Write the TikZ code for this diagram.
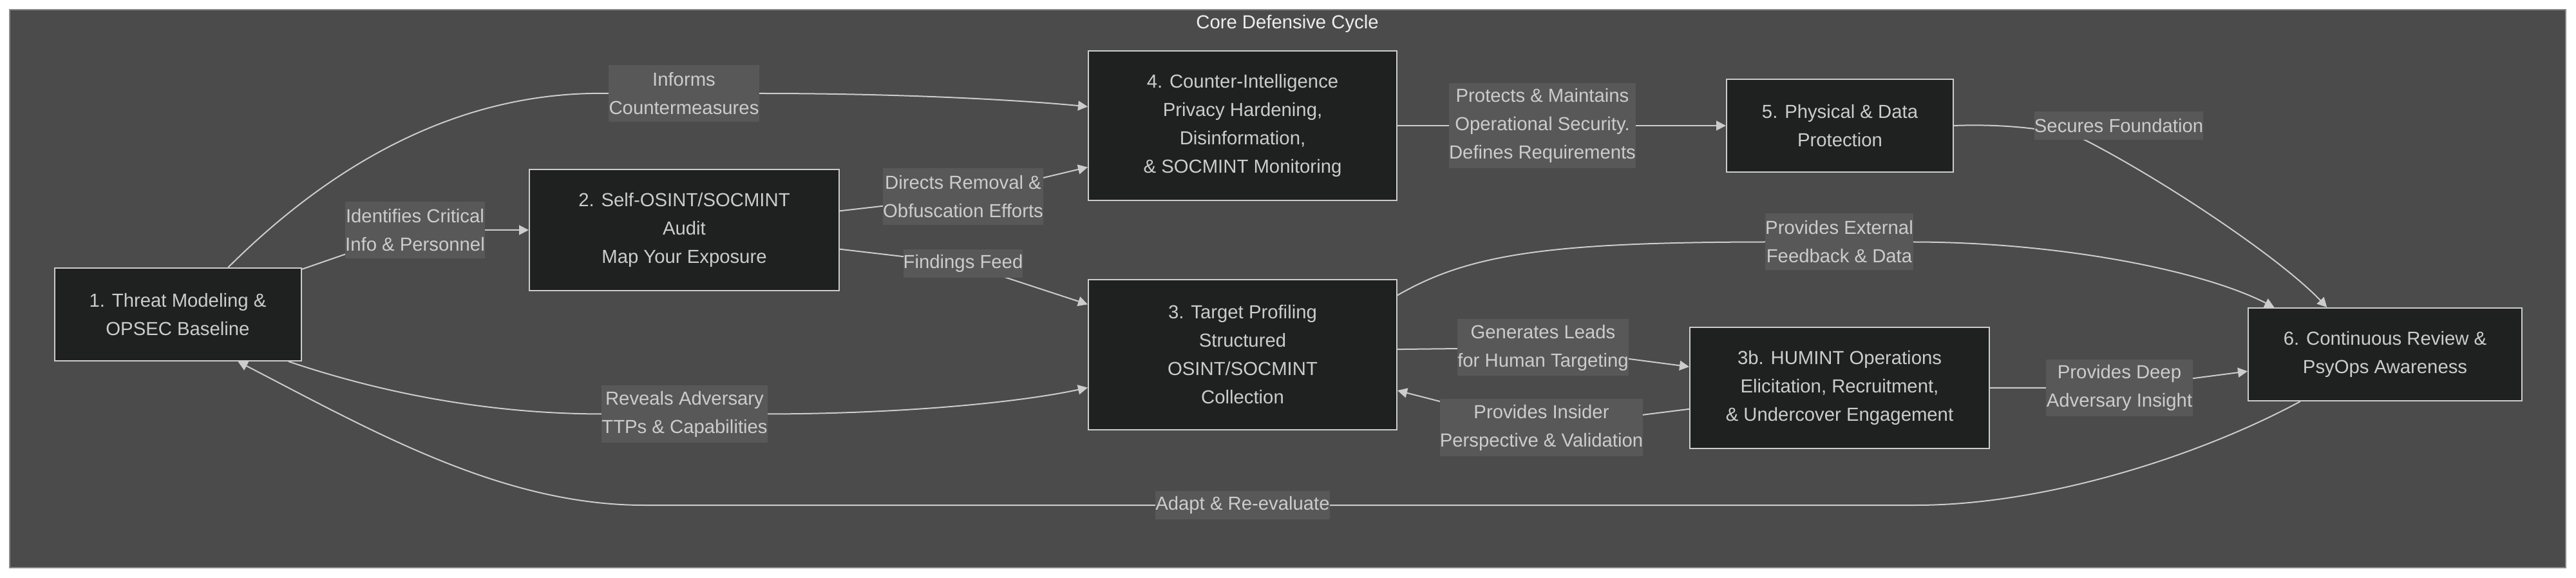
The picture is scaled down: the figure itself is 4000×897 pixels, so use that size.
\documentclass[tikz,border=0pt]{standalone}
\usepackage{fontspec}
\setmainfont{Liberation Sans}
\usetikzlibrary{arrows.meta,calc}
\definecolor{clusterbg}{HTML}{4A4B4A}
\definecolor{clusterline}{HTML}{8A8A8A}
\definecolor{nodebg}{HTML}{1F2020}
\definecolor{labelbg}{HTML}{585858}
\definecolor{linec}{HTML}{CCCCCC}
\definecolor{txtc}{HTML}{CCCCCC}
\definecolor{titlec}{HTML}{EEEEEE}
\pgfdeclarelayer{back}
\pgfdeclarelayer{edges}
\pgfsetlayers{back,edges,main}
\begin{document}
\begin{tikzpicture}[x=0.5pt,y=-0.5pt,
  every node/.style={font=\fontsize{14.65pt}{22pt}\selectfont, text=txtc, align=center},
  box/.style={draw=linec, line width=1pt, fill=nodebg, inner sep=0pt},
  lbl/.style={fill=labelbg, inner sep=0pt},
  edge/.style={draw=linec, line width=1pt},
  arr/.style={edge, -{Triangle[length=7.5pt,width=7.5pt]}},
]
\useasboundingbox (0,0) rectangle (4000,897);
\begin{pgfonlayer}{back}
  \fill[white] (0,0) rectangle (4000,897);
  \draw[fill=clusterbg, draw=clusterline, line width=0.6pt] (15,15) rectangle (3984,881);
\end{pgfonlayer}

\node[text=titlec] (title) at (1999,37) {Core Defensive Cycle};

% main boxes
\node[box, minimum width=191.5pt, minimum height=72pt] (n1) at (276,488) {1. Threat Modeling \&\\OPSEC Baseline};
\node[box, minimum width=240.5pt, minimum height=94pt] (n2) at (1062.5,357) {2. Self-OSINT/SOCMINT\\Audit\\Map Your Exposure};
\node[box, minimum width=239.5pt, minimum height=116pt] (n4) at (1929.5,195) {4. Counter-Intelligence\\Privacy Hardening,\\Disinformation,\\\& SOCMINT Monitoring};
\node[box, minimum width=239.5pt, minimum height=116.5pt] (n3) at (1929.5,550.5) {3. Target Profiling\\Structured\\OSINT/SOCMINT\\Collection};
\node[box, minimum width=176pt, minimum height=72pt] (n5) at (2857,195) {5. Physical \& Data\\Protection};
\node[box, minimum width=232.5pt, minimum height=94pt] (n3b) at (2856.5,602) {3b. HUMINT Operations\\Elicitation, Recruitment,\\\& Undercover Engagement};
\node[box, minimum width=212.5pt, minimum height=72pt] (n6) at (3703.5,550) {6. Continuous Review \&\\PsyOps Awareness};

% edge labels
\node[lbl, minimum width=117pt, minimum height=44pt] (lInforms) at (1062,145) {Informs\\Countermeasures};
\node[lbl, minimum width=108.5pt, minimum height=44pt] (lIdent) at (644.5,357) {Identifies Critical\\Info \& Personnel};
\node[lbl, minimum width=124.5pt, minimum height=44pt] (lDirects) at (1495.5,305.5) {Directs Removal \&\\Obfuscation Efforts};
\node[lbl, minimum width=92.5pt, minimum height=22pt] (lFind) at (1495.5,409) {Findings Feed};
\node[lbl, minimum width=129pt, minimum height=44pt] (lReveal) at (1063,642.5) {Reveals Adversary\\TTPs \& Capabilities};
\node[lbl, minimum width=145pt, minimum height=66pt] (lProtect) at (2395,195) {Protects \& Maintains\\Operational Security.\\Defines Requirements};
\node[lbl, minimum width=133pt, minimum height=44pt] (lGen) at (2396,539.5) {Generates Leads\\for Human Targeting};
\node[lbl, minimum width=157.5pt, minimum height=44pt] (lInsider) at (2393.5,663.5) {Provides Insider\\Perspective \& Validation};
\node[lbl, minimum width=135.5pt, minimum height=22pt] (lAdapt) at (1929.5,784) {Adapt \& Re-evaluate};
\node[lbl, minimum width=131pt, minimum height=22pt] (lSecures) at (3290,195) {Secures Foundation};
\node[lbl, minimum width=115pt, minimum height=44pt] (lExt) at (2856,375.5) {Provides External\\Feedback \& Data};
\node[lbl, minimum width=114pt, minimum height=44pt] (lDeep) at (3291,602) {Provides Deep\\Adversary Insight};

\coordinate (secbend) at (3237,217);
\coordinate (ad1) at (2975,784);
\coordinate (ad2) at (1000,784);

\begin{pgfonlayer}{edges}
  \draw[arr] (n1.20) -- (lIdent.center) -- (n2.west);
  \draw[arr] (n1.43) .. controls (480,290) and (680,140) .. (lInforms.west) -- (lInforms.east) .. controls (1400,145) and (1580,155) .. (n4.173);
  \draw[arr] (n2.7) -- (lDirects.center) -- (n4.195);
  \draw[arr] (n2.-7) -- (lFind.center) -- (n3.162);
  \draw[arr] (n1.-23) .. controls (596,611) and (760,642) .. (lReveal.west) -- (lReveal.east) .. controls (1400,642) and (1580,625) .. (n3.192);
  \draw[arr] (n4.east) -- (lProtect.center) -- (n5.west);
  \draw[arr] (n5.east) .. controls (3110,192) and (3190,200) .. (secbend) .. controls (3360,280) and (3540,400) .. (n6.141);
  \draw[arr] (n3.21) .. controls (2280,395) and (2400,376) .. (lExt.west) -- (lExt.east) .. controls (3200,376) and (3420,420) .. (n6.157);
  \draw[arr] (n3.2) -- (lGen.center) -- (n3b.172);
  \draw[arr] (n3b.188) -- (lInsider.center) -- (n3.-13);
  \draw[arr] (n3b.east) -- (lDeep.center) -- (n6.187);
  \draw[arr] (n6.209) .. controls (3420,705) and (3180,784) .. (ad1) -- (lAdapt.center) -- (ad2) .. controls (780,784) and (580,670) .. (n1.-38);
\end{pgfonlayer}
\end{tikzpicture}
\end{document}
